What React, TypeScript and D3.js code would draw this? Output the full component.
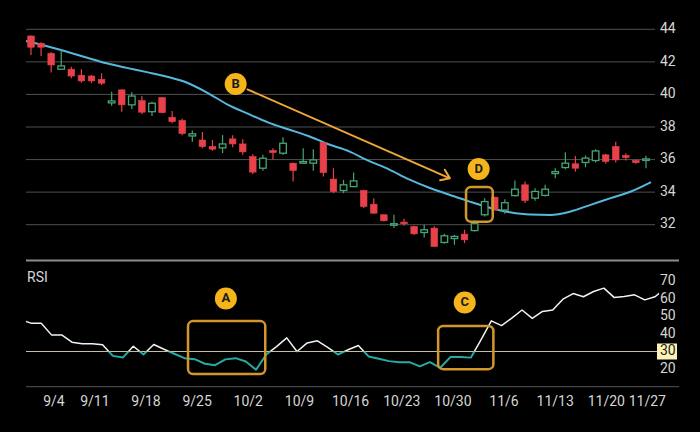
import React from "react";
import * as d3 from "d3";

// ---------- data ----------
const dates = [
  "8/31", "9/1", "9/5", "9/6", "9/7", "9/8",
  "9/11", "9/12", "9/13", "9/14", "9/15",
  "9/18", "9/19", "9/20", "9/21", "9/22",
  "9/25", "9/26", "9/27", "9/28", "9/29",
  "10/2", "10/3", "10/4", "10/5", "10/6",
  "10/9", "10/10", "10/11", "10/12", "10/13",
  "10/16", "10/17", "10/18", "10/19", "10/20",
  "10/23", "10/24", "10/25", "10/26", "10/27",
  "10/30", "10/31", "11/1", "11/2", "11/3",
  "11/6", "11/7", "11/8", "11/9", "11/10",
  "11/13", "11/14", "11/15", "11/16", "11/17",
  "11/20", "11/21", "11/22", "11/24",
  "11/27", "11/28",
];

const opens = [
  43.59, 43.14, 42.52, 41.55, 41.55, 41.18, 41.13, 40.93, 39.48, 40.28,
  39.36, 39.62, 38.94, 39.8, 38.6, 38.4, 37.45, 37.2, 36.8, 36.72,
  37.27, 36.96, 36.18, 35.47, 36.55, 36.39, 35.78, 35.78, 35.78, 37.04,
  34.8, 34.1, 34.34, 34.1, 33.26, 32.61, 31.99, 32.16, 31.89, 31.52,
  31.79, 30.91, 31.15, 31.42, 31.64, 32.61, 33.69, 32.9, 33.79, 34.45,
  33.63, 33.8, 35.14, 35.51, 35.74, 35.82, 35.94, 36.29, 36.8, 36.25,
  35.94, 35.98,
];
const closes = [
  42.9, 42.9, 41.81, 41.75, 41.13, 40.83, 40.83, 40.69, 39.6, 39.36,
  39.9, 38.91, 39.46, 38.88, 38.33, 37.6, 37.58, 36.8, 36.64, 36.96,
  36.96, 36.47, 35.23, 36.08, 36.43, 37.0, 35.33, 35.88, 35.98, 35.2,
  34.04, 34.45, 34.69, 33.12, 32.71, 32.24, 32.06, 32.06, 31.44, 31.69,
  30.66, 31.32, 31.28, 31.07, 32.06, 33.42, 32.91, 33.35, 34.18, 33.49,
  34.04, 34.18, 35.26, 35.78, 35.47, 36.09, 36.53, 35.88, 35.98, 36.12,
  35.82, 36.04,
];
const highs = [
  43.62, 43.2, 42.6, 42.73, 41.7, 41.55, 41.2, 41.3, 40.17, 40.32,
  40.13, 39.9, 39.55, 39.85, 38.99, 38.5, 37.78, 37.7, 37.2, 37.5,
  37.5, 37.25, 36.33, 36.29, 36.7, 37.37, 35.8, 36.7, 36.64, 37.08,
  35.47, 34.75, 35.2, 34.14, 33.63, 32.63, 32.61, 32.36, 31.93, 31.99,
  31.9, 31.44, 31.38, 31.69, 32.26, 33.63, 33.72, 33.57, 34.71, 34.65,
  34.24, 34.45, 35.47, 36.45, 36.22, 36.25, 36.64, 36.35, 37.1, 36.39,
  36.0, 36.23,
];
const lows = [
  42.42, 42.36, 41.34, 41.5, 40.99, 40.72, 40.69, 40.58, 39.3, 38.94,
  39.1, 38.8, 38.68, 38.85, 38.23, 37.5, 37.1, 36.7, 36.53, 36.4,
  36.76, 36.29, 35.12, 35.32, 36.0, 36.29, 34.65, 35.75, 35.32, 34.96,
  33.94, 33.94, 34.3, 33.02, 32.65, 32.2, 31.79, 31.93, 31.36, 31.21,
  30.64, 30.83, 30.77, 30.87, 31.58, 32.5, 32.87, 32.67, 33.73, 33.33,
  33.47, 33.73, 34.86, 35.41, 35.26, 35.53, 35.82, 35.74, 35.82, 35.94,
  35.74, 35.47,
];

// moving average, read across the plot from its left edge to its right edge
const maValues = [
  43.28, 42.98, 42.64, 42.27, 41.91, 41.63, 41.37, 41.09, 40.72, 40.1,
  39.38, 38.82, 38.28, 37.86, 37.45, 36.94, 36.52, 35.92, 35.4, 34.78,
  34.27, 33.84, 33.42, 33.04, 32.76, 32.62, 32.6, 32.81, 33.22, 33.63,
  34.04, 34.62,
];

// RSI, from the day before the first date to the day after the last date
const rsiValues = [
  48.2,
  46.2, 46.2, 39.5, 39.5, 35.3, 34.4, 34.4, 33.8, 27.5, 26.6,
  33.0, 28.3, 34.0, 31.3, 28.7, 26.2, 25.6, 23.0, 22.2, 25.5,
  26.2, 24.3, 19.6, 28.3, 32.8, 37.8, 30.0, 34.9, 36.1, 32.4,
  28.3, 31.0, 33.4, 27.2, 25.9, 24.5, 23.9, 23.9, 21.5, 23.9,
  20.7, 26.8, 26.8, 26.5, 36.8, 47.5, 44.8, 49.1, 53.7, 48.9,
  52.9, 53.7, 59.9, 63.1, 61.3, 64.3, 66.2, 60.9, 61.4, 62.4,
  59.5, 61.3,
  66.1,
];

const priceTicks = [32, 34, 36, 38, 40, 42, 44];
const rsiTicks = [20, 30, 40, 50, 60, 70];
const rsiThreshold = 30;
const weekLabels = ["9/4", "9/11", "9/18", "9/25", "10/2", "10/9", "10/16", "10/23", "10/30", "11/6", "11/13", "11/20", "11/27"];

// annotations in data coordinates
const rsiBoxes = [
  { label: "A", i0: 15.35, i1: 22.9, v0: 17.1, v1: 47.4, ci: 19.05, cv: 60.3 },
  { label: "C", i0: 39.8, i1: 45.2, v0: 19.9, v1: 44.6, ci: 42.4, cv: 58.0 },
];
const priceBox = { label: "D", i0: 43.15, i1: 45.8, v0: 32.18, v1: 34.32, ci: 44.4, cv: 35.42 };
const arrowNote = { label: "B", ci: 20.3, cv: 40.64, fromI: 21.4, fromV: 40.33, toI: 41.55, toV: 34.85 };

// ---------- helpers ----------
const parseMD = (s: string) => {
  const [m, d] = s.split("/").map(Number);
  return m * 100 + d;
};

const RED = "#e8414a";
const GREEN = "#46a574";
const MA_COLOR = "#56b8dc";
const TEAL = "#27aaa6";
const GOLD = "#f4b41a";
const BOX = "#d3962c";
const ARROW = "#f2a63a";
const TEXT = "#d6d6d6";
const FONT = "Roboto, 'Noto Sans', sans-serif";

export default function App() {
  const W = 700;
  const H = 432;
  const n = dates.length;

  const xMain = d3.scaleLinear().domain([0, n - 1]).range([31, 646]);
  const xRsi = d3.scaleLinear().domain([0, n - 1]).range([31, 655]);
  const yPrice = d3.scaleLinear().domain([32, 44]).range([224.7, 29.3]);
  const yRsi = d3.scaleLinear().domain([20, 70]).range([369, 281.5]);
  const xMa = d3.scaleLinear().domain([0, maValues.length - 1]).range([xMain(-0.5), xMain(n - 0.5)]);

  const maPath = d3
    .line<number>()
    .x((_, i) => xMa(i))
    .y((v) => yPrice(v))
    .curve(d3.curveMonotoneX)(maValues) as string;

  const rsiPath = d3
    .line<number>()
    .x((_, i) => xRsi(i - 1))
    .y((v) => yRsi(v))(rsiValues) as string;

  const candleW = 6.6;
  const gridX0 = 26;
  const gridX1 = 655;
  const rsiX1 = 659;
  const y30 = yRsi(rsiThreshold);

  const weekIdx = weekLabels.map((lab) => dates.findIndex((d) => parseMD(d) >= parseMD(lab)));

  const arrowAngle = Math.atan2(
    yPrice(arrowNote.toV) - yPrice(arrowNote.fromV),
    xMain(arrowNote.toI) - xMain(arrowNote.fromI)
  );
  const tipX = xMain(arrowNote.toI);
  const tipY = yPrice(arrowNote.toV);
  const headLen = 10;
  const headSpread = 0.62;
  const head = [arrowAngle + Math.PI - headSpread, arrowAngle + Math.PI + headSpread].map((a) => [
    tipX + headLen * Math.cos(a),
    tipY + headLen * Math.sin(a),
  ]);

  const Badge = ({ x, y, label }: { x: number; y: number; label: string }) => (
    <g>
      <circle cx={x} cy={y} r={11} fill={GOLD} />
      <text x={x} y={y + 0.5} textAnchor="middle" dominantBaseline="middle" fontFamily={FONT} fontWeight={700} fontSize={13} fill="#1b1b1b">
        {label}
      </text>
    </g>
  );

  return (
    <div style={{ position: "fixed", left: 0, top: 0, width: W, height: H, background: "#000" }}>
      <svg width={W} height={H} style={{ display: "block" }}>
        <defs>
          <clipPath id="rsiAbove">
            <rect x={gridX0} y={0} width={rsiX1 - gridX0} height={y30} />
          </clipPath>
          <clipPath id="rsiBelow">
            <rect x={gridX0} y={y30} width={rsiX1 - gridX0} height={H - y30} />
          </clipPath>
        </defs>
        <rect x={0} y={0} width={W} height={H} fill="#000" />

        {/* price grid + labels */}
        {priceTicks.map((t) => (
          <g key={"pt" + t}>
            <line x1={gridX0} x2={gridX1} y1={yPrice(t)} y2={yPrice(t)} stroke="#4f4f4f" strokeWidth={1} />
            <text x={660} y={yPrice(t)} dominantBaseline="middle" fontFamily={FONT} fontSize={14} fill={TEXT}>
              {t}
            </text>
          </g>
        ))}

        {/* moving average */}
        <path d={maPath} fill="none" stroke={MA_COLOR} strokeWidth={2} />

        {/* candles */}
        {dates.map((d, i) => {
          const up = closes[i] >= opens[i];
          const col = up ? GREEN : RED;
          const x = xMain(i);
          const yTop = yPrice(Math.max(opens[i], closes[i]));
          const yBot = yPrice(Math.min(opens[i], closes[i]));
          const h = Math.max(yBot - yTop, 1.5);
          return (
            <g key={"c" + d}>
              <line x1={x} x2={x} y1={yPrice(highs[i])} y2={yPrice(lows[i])} stroke={col} strokeWidth={1.2} />
              <rect
                x={x - candleW / 2}
                y={yTop}
                width={candleW}
                height={h}
                fill={up ? "#000" : col}
                stroke={col}
                strokeWidth={up ? 1.3 : 0.6}
              />
            </g>
          );
        })}

        {/* annotation D */}
        <rect
          x={xMain(priceBox.i0)}
          y={yPrice(priceBox.v1)}
          width={xMain(priceBox.i1) - xMain(priceBox.i0)}
          height={yPrice(priceBox.v0) - yPrice(priceBox.v1)}
          rx={5}
          fill="none"
          stroke={BOX}
          strokeWidth={2.5}
        />
        <Badge x={xMain(priceBox.ci)} y={yPrice(priceBox.cv)} label={priceBox.label} />

        {/* annotation B arrow */}
        <line
          x1={xMain(arrowNote.fromI)}
          y1={yPrice(arrowNote.fromV)}
          x2={tipX}
          y2={tipY}
          stroke={ARROW}
          strokeWidth={2}
        />
        <polyline
          points={`${head[0][0]},${head[0][1]} ${tipX},${tipY} ${head[1][0]},${head[1][1]}`}
          fill="none"
          stroke={ARROW}
          strokeWidth={2}
          strokeLinejoin="round"
          strokeLinecap="round"
        />
        <Badge x={xMain(arrowNote.ci)} y={yPrice(arrowNote.cv)} label={arrowNote.label} />

        {/* separator */}
        <line x1={gridX0} x2={679} y1={260.5} y2={260.5} stroke="#8c8c8c" strokeWidth={2} />

        {/* RSI panel */}
        <text x={27} y={278} dominantBaseline="middle" fontFamily={FONT} fontSize={14} fill={TEXT}>
          RSI
        </text>
        <line x1={gridX0} x2={679} y1={386.7} y2={386.7} stroke="#555" strokeWidth={1} />
        <line x1={gridX0} x2={658} y1={y30} y2={y30} stroke="#c9bf9c" strokeWidth={1} />

        {rsiTicks.map((t) =>
          t === rsiThreshold ? (
            <g key={"rt" + t}>
              <rect x={657} y={y30 - 8} width={20} height={16} fill="#fbf3b5" />
              <text x={660} y={y30} dominantBaseline="middle" fontFamily={FONT} fontSize={14} fill="#1a1a1a">
                {t}
              </text>
            </g>
          ) : (
            <text key={"rt" + t} x={660} y={yRsi(t)} dominantBaseline="middle" fontFamily={FONT} fontSize={14} fill={TEXT}>
              {t}
            </text>
          )
        )}

        <path d={rsiPath} fill="none" stroke="#f2f2f2" strokeWidth={1.5} clipPath="url(#rsiAbove)" strokeLinejoin="round" />
        <path d={rsiPath} fill="none" stroke={TEAL} strokeWidth={2} clipPath="url(#rsiBelow)" strokeLinejoin="round" />

        {rsiBoxes.map((b) => (
          <g key={"box" + b.label}>
            <rect
              x={xRsi(b.i0)}
              y={yRsi(b.v1)}
              width={xRsi(b.i1) - xRsi(b.i0)}
              height={yRsi(b.v0) - yRsi(b.v1)}
              rx={5}
              fill="none"
              stroke={BOX}
              strokeWidth={2.5}
            />
            <Badge x={xRsi(b.ci)} y={yRsi(b.cv)} label={b.label} />
          </g>
        ))}

        {/* x labels */}
        {weekLabels.map((lab, k) => (
          <text
            key={"wl" + lab}
            x={xRsi(weekIdx[k]) + 2.5}
            y={402}
            textAnchor="middle"
            dominantBaseline="middle"
            fontFamily={FONT}
            fontSize={14}
            fill={TEXT}
          >
            {lab}
          </text>
        ))}
      </svg>
    </div>
  );
}
